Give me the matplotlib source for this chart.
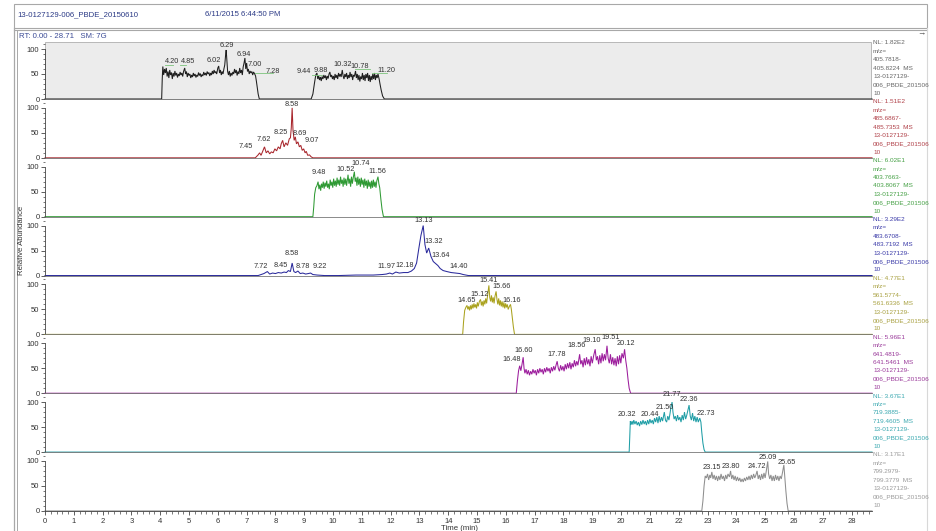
import numpy as np
import matplotlib
matplotlib.use('Agg')
import matplotlib.pyplot as plt
from matplotlib.ticker import MultipleLocator
from matplotlib.patches import Rectangle

plt.rcParams['font.family'] = ['Liberation Sans', 'DejaVu Sans']

W, H = 937, 531
T_MAX = 28.71

# --- trace data (relative abundance, %) -------------------------------------
t_405 = [0, 4.05, 4.07, 4.09, 4.12, 4.15, 4.18, 4.21, 4.24, 4.27, 4.30, 4.33, 4.36, 4.39, 4.42, 4.45,
         4.48, 4.51, 4.54, 4.57, 4.60, 4.63, 4.66, 4.69, 4.72, 4.75, 4.78, 4.81, 4.85, 4.88, 4.91,
         4.94, 4.97, 5.00, 5.03, 5.06, 5.09, 5.12, 5.15, 5.18, 5.21, 5.24, 5.27, 5.30, 5.33, 5.36,
         5.39, 5.42, 5.45, 5.48, 5.51, 5.54, 5.57, 5.60, 5.63, 5.66, 5.69, 5.72, 5.75, 5.78, 5.81,
         5.84, 5.87, 5.90, 5.93, 5.96, 6.00, 6.03, 6.06, 6.09, 6.12, 6.15, 6.18, 6.21, 6.24, 6.27,
         6.29, 6.31, 6.34, 6.37, 6.40, 6.43, 6.46, 6.49, 6.52, 6.55, 6.58, 6.61, 6.64, 6.67, 6.70,
         6.73, 6.76, 6.79, 6.82, 6.85, 6.88, 6.91, 6.94, 6.97, 7.00, 7.03, 7.06, 7.09, 7.12, 7.15,
         7.18, 7.21, 7.24, 7.28, 7.31, 7.34, 7.37, 7.40, 7.44,
         9.24, 9.30, 9.35, 9.40, 9.44, 9.47, 9.50, 9.53, 9.56, 9.59, 9.62, 9.65, 9.68, 9.71, 9.74,
         9.77, 9.80, 9.83, 9.86, 9.89, 9.92, 9.95, 9.98, 10.01, 10.04, 10.07, 10.10, 10.13, 10.16,
         10.19, 10.22, 10.25, 10.28, 10.32, 10.35, 10.38, 10.41, 10.44, 10.47, 10.50, 10.53, 10.56,
         10.59, 10.62, 10.65, 10.68, 10.71, 10.74, 10.78, 10.81, 10.84, 10.87, 10.90, 10.93, 10.96,
         10.99, 11.02, 11.05, 11.08, 11.11, 11.14, 11.17, 11.20, 11.23, 11.26, 11.29, 11.32, 11.35,
         11.38, 11.41, 11.44, 11.47, 11.50, 11.53, 11.56, 11.60, 11.63, 11.67, 11.72, 11.78, T_MAX]
y_405 = [0, 0, 40, 65, 48, 60, 52, 62, 45, 55, 42, 58, 48, 53, 40, 52,
         45, 56, 47, 52, 43, 50, 46, 54, 48, 52, 45, 55, 62, 50, 55,
         44, 52, 47, 50, 42, 48, 44, 52, 46, 50, 43, 48, 45, 53, 47,
         51, 44, 49, 46, 54, 48, 52, 47, 55, 50, 53, 46, 52, 48, 56,
         50, 58, 52, 55, 50, 62, 66, 52, 58, 48, 55, 50, 60, 68, 88,
         98, 80, 55, 48, 56, 45, 52, 47, 54, 50, 60, 52, 58, 47, 55,
         50, 62, 52, 58, 48, 64, 72, 82, 60, 72, 55, 60, 50, 56, 52,
         55, 48, 54, 50, 46, 35, 22, 10, 0,
         0, 10, 30, 48, 52, 40, 46, 38, 44, 36, 45, 40, 48, 42, 47,
         38, 46, 41, 50, 54, 44, 48, 40, 46, 38, 50, 42, 48, 40,
         52, 45, 50, 44, 58, 46, 40, 50, 44, 52, 40, 48, 42,
         54, 44, 50, 38, 48, 45, 56, 42, 50, 38, 48, 35, 45,
         40, 52, 38, 48, 36, 50, 42, 52, 36, 48, 34, 46, 38,
         50, 40, 52, 38, 48, 42, 50, 40, 30, 18, 6, 0, 0]

t_485 = [0, 7.30, 7.35, 7.40, 7.45, 7.50, 7.55, 7.62, 7.68, 7.74, 7.80, 7.86, 7.92, 7.98, 8.04,
         8.10, 8.16, 8.20, 8.25, 8.30, 8.36, 8.42, 8.48, 8.52, 8.55, 8.58, 8.61, 8.65, 8.69, 8.73,
         8.78, 8.83, 8.88, 8.93, 8.98, 9.03, 9.07, 9.12, 9.18, 9.24, 9.30, T_MAX]
y_485 = [0, 0, 3, 6, 10, 5, 12, 22, 10, 14, 8, 12, 10, 18, 14,
         22, 18, 28, 35, 22, 30, 25, 38, 40, 60, 100, 55, 35, 42, 28,
         32, 22, 25, 15, 18, 10, 13, 5, 6, 2, 0, 0]

t_403 = [0, 9.30, 9.33, 9.36, 9.40, 9.44, 9.48, 9.51, 9.54, 9.57, 9.60, 9.63, 9.66, 9.69, 9.72,
         9.75, 9.78, 9.81, 9.84, 9.87, 9.90, 9.93, 9.96, 9.99, 10.02, 10.05, 10.08, 10.11, 10.14,
         10.17, 10.20, 10.23, 10.26, 10.29, 10.32, 10.35, 10.38, 10.41, 10.44, 10.47, 10.52, 10.55,
         10.58, 10.61, 10.64, 10.67, 10.70, 10.74, 10.77, 10.80, 10.83, 10.86, 10.89, 10.92, 10.95,
         10.98, 11.01, 11.04, 11.07, 11.10, 11.13, 11.16, 11.19, 11.22, 11.25, 11.28, 11.31, 11.34,
         11.37, 11.40, 11.43, 11.46, 11.49, 11.52, 11.56, 11.59, 11.62, 11.66, 11.70, 11.75, T_MAX]
y_403 = [0, 0, 20, 45, 58, 62, 70, 55, 64, 52, 66, 58, 70, 56, 68,
         60, 72, 58, 66, 55, 74, 62, 70, 58, 76, 62, 72, 60, 78,
         64, 74, 62, 80, 66, 74, 60, 78, 64, 76, 62, 84, 66,
         76, 60, 80, 66, 78, 90, 70, 78, 62, 80, 64, 76, 60,
         78, 64, 74, 58, 76, 62, 72, 56, 74, 60, 70, 56, 72,
         58, 74, 60, 70, 58, 72, 80, 66, 58, 35, 15, 0, 0]

t_483 = [0, 7.40, 7.50, 7.60, 7.72, 7.80, 7.90, 8.00, 8.10, 8.20, 8.30, 8.38, 8.45, 8.52, 8.58,
         8.64, 8.70, 8.78, 8.86, 8.95, 9.05, 9.14, 9.22, 9.30, 9.45, 9.70, 10.2, 10.8, 11.4, 11.7,
         11.85, 11.97, 12.06, 12.18, 12.30, 12.45, 12.60, 12.72, 12.82, 12.90, 12.98, 13.05, 13.13,
         13.19, 13.25, 13.32, 13.40, 13.48, 13.56, 13.64, 13.72, 13.82, 13.95, 14.10, 14.25, 14.40,
         14.52, 14.70, T_MAX]
y_483 = [0, 0, 2, 4, 8, 3, 5, 4, 6, 5, 7, 6, 10, 8, 25,
         8, 6, 9, 4, 5, 3, 4, 5, 2, 1, 0, 0, 1, 1, 2,
         3, 5, 3, 7, 5, 6, 6, 9, 14, 25, 55, 80, 100,
         62, 45, 55, 38, 28, 24, 20, 14, 10, 8, 6, 5, 4,
         2, 0, 0]

t_561 = [0, 14.50, 14.53, 14.57, 14.61, 14.65, 14.68, 14.71, 14.74, 14.77, 14.80, 14.83, 14.86,
         14.89, 14.92, 14.95, 14.98, 15.01, 15.04, 15.08, 15.12, 15.15, 15.18, 15.21, 15.24, 15.27,
         15.30, 15.33, 15.37, 15.41, 15.44, 15.47, 15.50, 15.53, 15.56, 15.59, 15.62, 15.66, 15.69,
         15.72, 15.75, 15.78, 15.81, 15.84, 15.87, 15.90, 15.93, 15.96, 15.99, 16.02, 16.05, 16.08,
         16.12, 16.16, 16.19, 16.22, 16.26, 16.30, T_MAX]
y_561 = [0, 0, 25, 48, 54, 58, 50, 56, 48, 58, 50, 60, 52,
         62, 54, 60, 52, 64, 56, 66, 70, 58, 66, 56, 68, 60,
         72, 62, 80, 98, 74, 66, 78, 64, 74, 62, 76, 86, 70,
         60, 72, 58, 68, 56, 66, 54, 64, 52, 62, 54, 60, 50,
         56, 60, 50, 35, 15, 0, 0]

t_641 = [0, 16.36, 16.40, 16.44, 16.48, 16.52, 16.56, 16.60, 16.63, 16.66, 16.70, 16.74, 16.78,
         16.82, 16.86, 16.90, 16.94, 16.98, 17.02, 17.06, 17.10, 17.14, 17.18, 17.22, 17.26, 17.30,
         17.34, 17.38, 17.42, 17.46, 17.50, 17.54, 17.58, 17.62, 17.66, 17.70, 17.74, 17.78, 17.82,
         17.86, 17.90, 17.94, 17.98, 18.02, 18.06, 18.10, 18.14, 18.18, 18.22, 18.26, 18.30, 18.34,
         18.38, 18.42, 18.46, 18.50, 18.56, 18.60, 18.64, 18.68, 18.72, 18.76, 18.80, 18.84, 18.88,
         18.92, 18.96, 19.00, 19.05, 19.10, 19.14, 19.18, 19.22, 19.26, 19.30, 19.34, 19.38, 19.42,
         19.46, 19.51, 19.55, 19.59, 19.63, 19.67, 19.71, 19.75, 19.79, 19.83, 19.87, 19.91, 19.95,
         19.99, 20.03, 20.08, 20.12, 20.16, 20.20, 20.24, 20.28, 20.33, T_MAX]
y_641 = [0, 0, 25, 45, 55, 45, 58, 72, 50, 40, 48, 38, 46,
         36, 44, 38, 48, 40, 46, 36, 48, 40, 50, 42, 48, 38,
         50, 42, 52, 44, 50, 40, 52, 44, 54, 46, 56, 64, 50,
         44, 56, 46, 54, 44, 58, 48, 60, 50, 62, 48, 60, 52,
         66, 54, 64, 56, 78, 58, 66, 52, 70, 56, 72, 58, 68,
         54, 74, 60, 76, 88, 66, 74, 58, 76, 60, 80, 64, 78,
         66, 95, 70, 60, 78, 58, 72, 56, 70, 54, 74, 58, 76,
         60, 80, 70, 88, 66, 50, 28, 10, 0, 0]

t_719 = [0, 20.28, 20.30, 20.32, 20.35, 20.38, 20.41, 20.44, 20.48, 20.52, 20.56, 20.60, 20.64,
         20.68, 20.72, 20.76, 20.80, 20.84, 20.88, 20.92, 20.96, 21.00, 21.04, 21.08, 21.12, 21.16,
         21.20, 21.24, 21.28, 21.32, 21.36, 21.40, 21.44, 21.50, 21.54, 21.58, 21.62, 21.66, 21.70,
         21.73, 21.77, 21.80, 21.84, 21.88, 21.92, 21.96, 22.00, 22.04, 22.08, 22.12, 22.16, 22.20,
         22.24, 22.28, 22.32, 22.36, 22.40, 22.44, 22.48, 22.52, 22.56, 22.60, 22.64, 22.68, 22.73,
         22.77, 22.80, 22.84, 22.88, 22.92, T_MAX]
y_719 = [0, 0, 30, 62, 55, 62, 55, 64, 56, 62, 54, 60, 52,
         62, 55, 64, 56, 62, 54, 64, 56, 66, 58, 64, 56, 68,
         60, 70, 58, 72, 60, 70, 62, 80, 64, 60, 72, 64, 78,
         90, 100, 80, 66, 72, 62, 74, 64, 70, 60, 74, 64, 80,
         66, 74, 84, 94, 72, 64, 78, 62, 72, 60, 70, 60, 68,
         60, 40, 18, 5, 0, 0]

t_799 = [0, 22.80, 22.84, 22.88, 22.92, 22.96, 23.00, 23.04, 23.08, 23.11, 23.15, 23.19, 23.23,
         23.27, 23.31, 23.35, 23.39, 23.43, 23.47, 23.51, 23.55, 23.59, 23.63, 23.67, 23.71, 23.76,
         23.80, 23.84, 23.88, 23.92, 23.96, 24.00, 24.04, 24.08, 24.12, 24.16, 24.20, 24.24, 24.28,
         24.32, 24.36, 24.40, 24.44, 24.48, 24.52, 24.56, 24.60, 24.64, 24.68, 24.72, 24.76, 24.80,
         24.84, 24.88, 24.92, 24.96, 25.00, 25.04, 25.09, 25.12, 25.16, 25.20, 25.24, 25.28, 25.32,
         25.36, 25.40, 25.44, 25.48, 25.52, 25.56, 25.60, 25.65, 25.68, 25.72, 25.76, 25.80, T_MAX]
y_799 = [0, 0, 20, 50, 70, 66, 74, 62, 72, 66, 78, 64, 72,
         62, 70, 60, 70, 62, 74, 64, 70, 60, 72, 64, 74, 68,
         80, 64, 72, 62, 70, 60, 68, 60, 66, 58, 64, 58, 66,
         60, 68, 62, 70, 62, 72, 64, 74, 66, 72, 80, 64, 72,
         62, 74, 64, 76, 66, 80, 99, 74, 64, 72, 60, 70, 60,
         72, 62, 70, 60, 70, 64, 76, 92, 70, 40, 15, 0, 0]

# peak labels: (text, x position [min], y position [%])
labels_405 = [("4.20", 4.42, 75), ("4.85", 4.98, 75), ("6.02", 5.87, 77), ("6.29", 6.31, 107),
              ("6.94", 6.91, 88), ("7.00", 7.29, 70), ("7.28", 7.91, 55), ("9.44", 8.97, 55),
              ("9.88", 9.59, 57), ("10.32", 10.34, 68), ("10.78", 10.94, 66), ("11.20", 11.84, 57)]
labels_485 = [("7.45", 6.95, 22), ("7.62", 7.60, 36), ("8.25", 8.20, 50), ("8.58", 8.55, 106),
              ("8.69", 8.85, 48), ("9.07", 9.25, 34)]
labels_403 = [("9.48", 9.50, 88), ("10.52", 10.45, 95), ("10.74", 10.95, 106), ("11.56", 11.54, 90)]
labels_483 = [("7.72", 7.50, 18), ("8.45", 8.18, 20), ("8.58", 8.58, 44), ("8.78", 8.95, 18),
              ("9.22", 9.55, 18), ("11.97", 11.85, 18), ("12.18", 12.50, 20), ("13.13", 13.13, 110),
              ("13.32", 13.50, 68), ("13.64", 13.75, 40), ("14.40", 14.35, 18)]
labels_561 = [("14.65", 14.62, 68), ("15.12", 15.10, 80), ("15.41", 15.41, 108), ("15.66", 15.85, 96),
              ("16.16", 16.20, 68)]
labels_641 = [("16.48", 16.20, 67), ("16.60", 16.62, 85), ("17.78", 17.78, 77), ("18.56", 18.45, 95),
              ("19.10", 18.98, 105), ("19.51", 19.64, 111), ("20.12", 20.16, 99)]
labels_719 = [("20.32", 20.20, 76), ("20.44", 21.00, 76), ("21.50", 21.50, 89), ("21.77", 21.77, 115),
              ("22.36", 22.36, 105), ("22.73", 22.95, 77)]
labels_799 = [("23.15", 23.15, 87), ("23.80", 23.80, 89), ("24.72", 24.72, 89), ("25.09", 25.09, 107),
              ("25.65", 25.75, 97)]

# flag lines from peak to shifted label: (t0, t1, y%)
flags_405 = [(4.17, 4.46, 68), (4.68, 4.91, 68), (7.29, 7.93, 51), (9.26, 9.60, 48),
             (10.77, 11.29, 59), (11.35, 11.87, 51)]

nl_values = ["1.82E2", "1.51E2", "6.02E1", "3.29E2", "4.77E1", "5.96E1", "3.67E1", "3.17E1"]
mz_ranges = [("405.7818", "405.8224"), ("485.6867", "485.7353"), ("403.7663", "403.8067"),
             ("483.6708", "483.7192"), ("561.5774", "561.6336"), ("641.4819", "641.5461"),
             ("719.3885", "719.4605"), ("799.2979", "799.3779")]
colors = ['#1e1e1e', '#a8262c', '#2f9a34', '#2a2a9c', '#aaa21e', '#9c1c9c', '#1f9ea6', '#8e8e8e']
text_colors = ['#666666', '#b04048', '#45a045', '#3a3aa8', '#a8a040', '#9a3a9a', '#3aa8b0', '#9a9a9a']

traces = [(t_405, y_405), (t_485, y_485), (t_403, y_403), (t_483, y_483),
          (t_561, y_561), (t_641, y_641), (t_719, y_719), (t_799, y_799)]
labels = [labels_405, labels_485, labels_403, labels_483, labels_561, labels_641, labels_719, labels_799]

fig = plt.figure(figsize=(W / 100, H / 100), dpi=100)

# background axes in pixel coordinates for frame + texts
bg = fig.add_axes([0, 0, 1, 1])
bg.set_xlim(0, W)
bg.set_ylim(H, 0)
bg.axis('off')

frame_c = '#a8a8a8'
bg.add_patch(Rectangle((14, 4), 913, 24, fc='white', ec=frame_c, lw=0.8))
bg.plot([14, 927], [29.5, 29.5], color=frame_c, lw=0.8)
bg.plot([14, 14], [28, H], color=frame_c, lw=0.9)
bg.plot([17, 17], [30, H], color=frame_c, lw=0.7)
bg.plot([927, 927], [28, H], color='#d8d8d8', lw=0.8)
bg.text(17, 15, "13-0127129-006_PBDE_20150610", fontsize=5.6, color='#2b3a86', va='center')
bg.text(205, 15, "6/11/2015 6:44:50 PM", fontsize=5.6, color='#2b3a86', va='center')
bg.text(19, 37, "RT: 0.00 - 28.71   SM: 7G", fontsize=5.6, color='#3a4a96', va='center')
bg.text(921, 34, "\u2192", fontsize=6, color='#444444', va='center', ha='center')
bg.text(22, 240, "Relative Abundance", fontsize=5.6, color='#333333', rotation=90,
        va='center', ha='center')
bg.text(460, 528, "Time (min)", fontsize=5.6, color='#333333', va='center', ha='center')

x0, x1 = 45, 872
pitch = 58.85
zero0 = 99

# grey highlight box of the selected (first) panel
bg.add_patch(Rectangle((x0, 42), 826, zero0 - 42, fc='#ececec', ec='#b8b8b8', lw=0.7, zorder=0))

for i in range(8):
    zero = zero0 + pitch * i
    ax = fig.add_axes([x0 / W, 1 - zero / H, (x1 - x0) / W, pitch / H])
    ax.set_xlim(0, T_MAX)
    ax.set_ylim(0, pitch * 2)
    ax.patch.set_alpha(0)
    for s in ['top', 'right']:
        ax.spines[s].set_visible(False)
    ax.spines['left'].set_bounds(0, 100)
    ax.spines['left'].set_color('#444444')
    ax.spines['left'].set_linewidth(0.6)
    ax.spines['bottom'].set_color('#777777')
    ax.spines['bottom'].set_linewidth(0.6)
    ax.set_yticks([0, 50, 100])
    ax.set_yticklabels(['0', '50', '100'])
    ax.yaxis.set_minor_locator(MultipleLocator(10))
    ax.tick_params(axis='y', which='major', length=3, width=0.6, labelsize=5.5, pad=1,
                   color='#444444', labelcolor='#333333')
    ax.tick_params(axis='y', which='minor', length=1.8, width=0.5, color='#444444')

    t, y = traces[i]
    ax.plot(t, y, color=colors[i], lw=0.75, solid_joinstyle='miter', clip_on=False)

    for txt, tx, ty in labels[i]:
        ax.text(tx, ty, txt, fontsize=5.3, color='#333333', ha='center', va='center')
    if i == 0:
        for f0, f1, fy in flags_405:
            ax.plot([f0, f1], [fy, fy], color='#7cc47c', lw=0.6)

    if i == 7:
        ax.set_xticks(np.arange(0, 29))
        ax.xaxis.set_minor_locator(MultipleLocator(0.2))
        ax.spines['bottom'].set_bounds(0, T_MAX)
        ax.spines['bottom'].set_color('#444444')
        ax.tick_params(axis='x', which='major', length=3, width=0.6, labelsize=5.5, pad=2,
                       color='#444444', labelcolor='#333333')
        ax.tick_params(axis='x', which='minor', length=1.8, width=0.5, color='#444444')
    else:
        ax.tick_params(axis='x', which='both', bottom=False, labelbottom=False)

    # right-hand info block
    lo, hi = mz_ranges[i]
    info = [f"NL: {nl_values[i]}", "m/z=", f"{lo}-", f"{hi}  MS", "13-0127129-",
            "006_PBDE_201506", "10"]
    for k, line in enumerate(info):
        bg.text(873, zero - 56 + k * 8.4, line, fontsize=4.6, color=text_colors[i], va='center')

fig.savefig('out.png', dpi=100)
